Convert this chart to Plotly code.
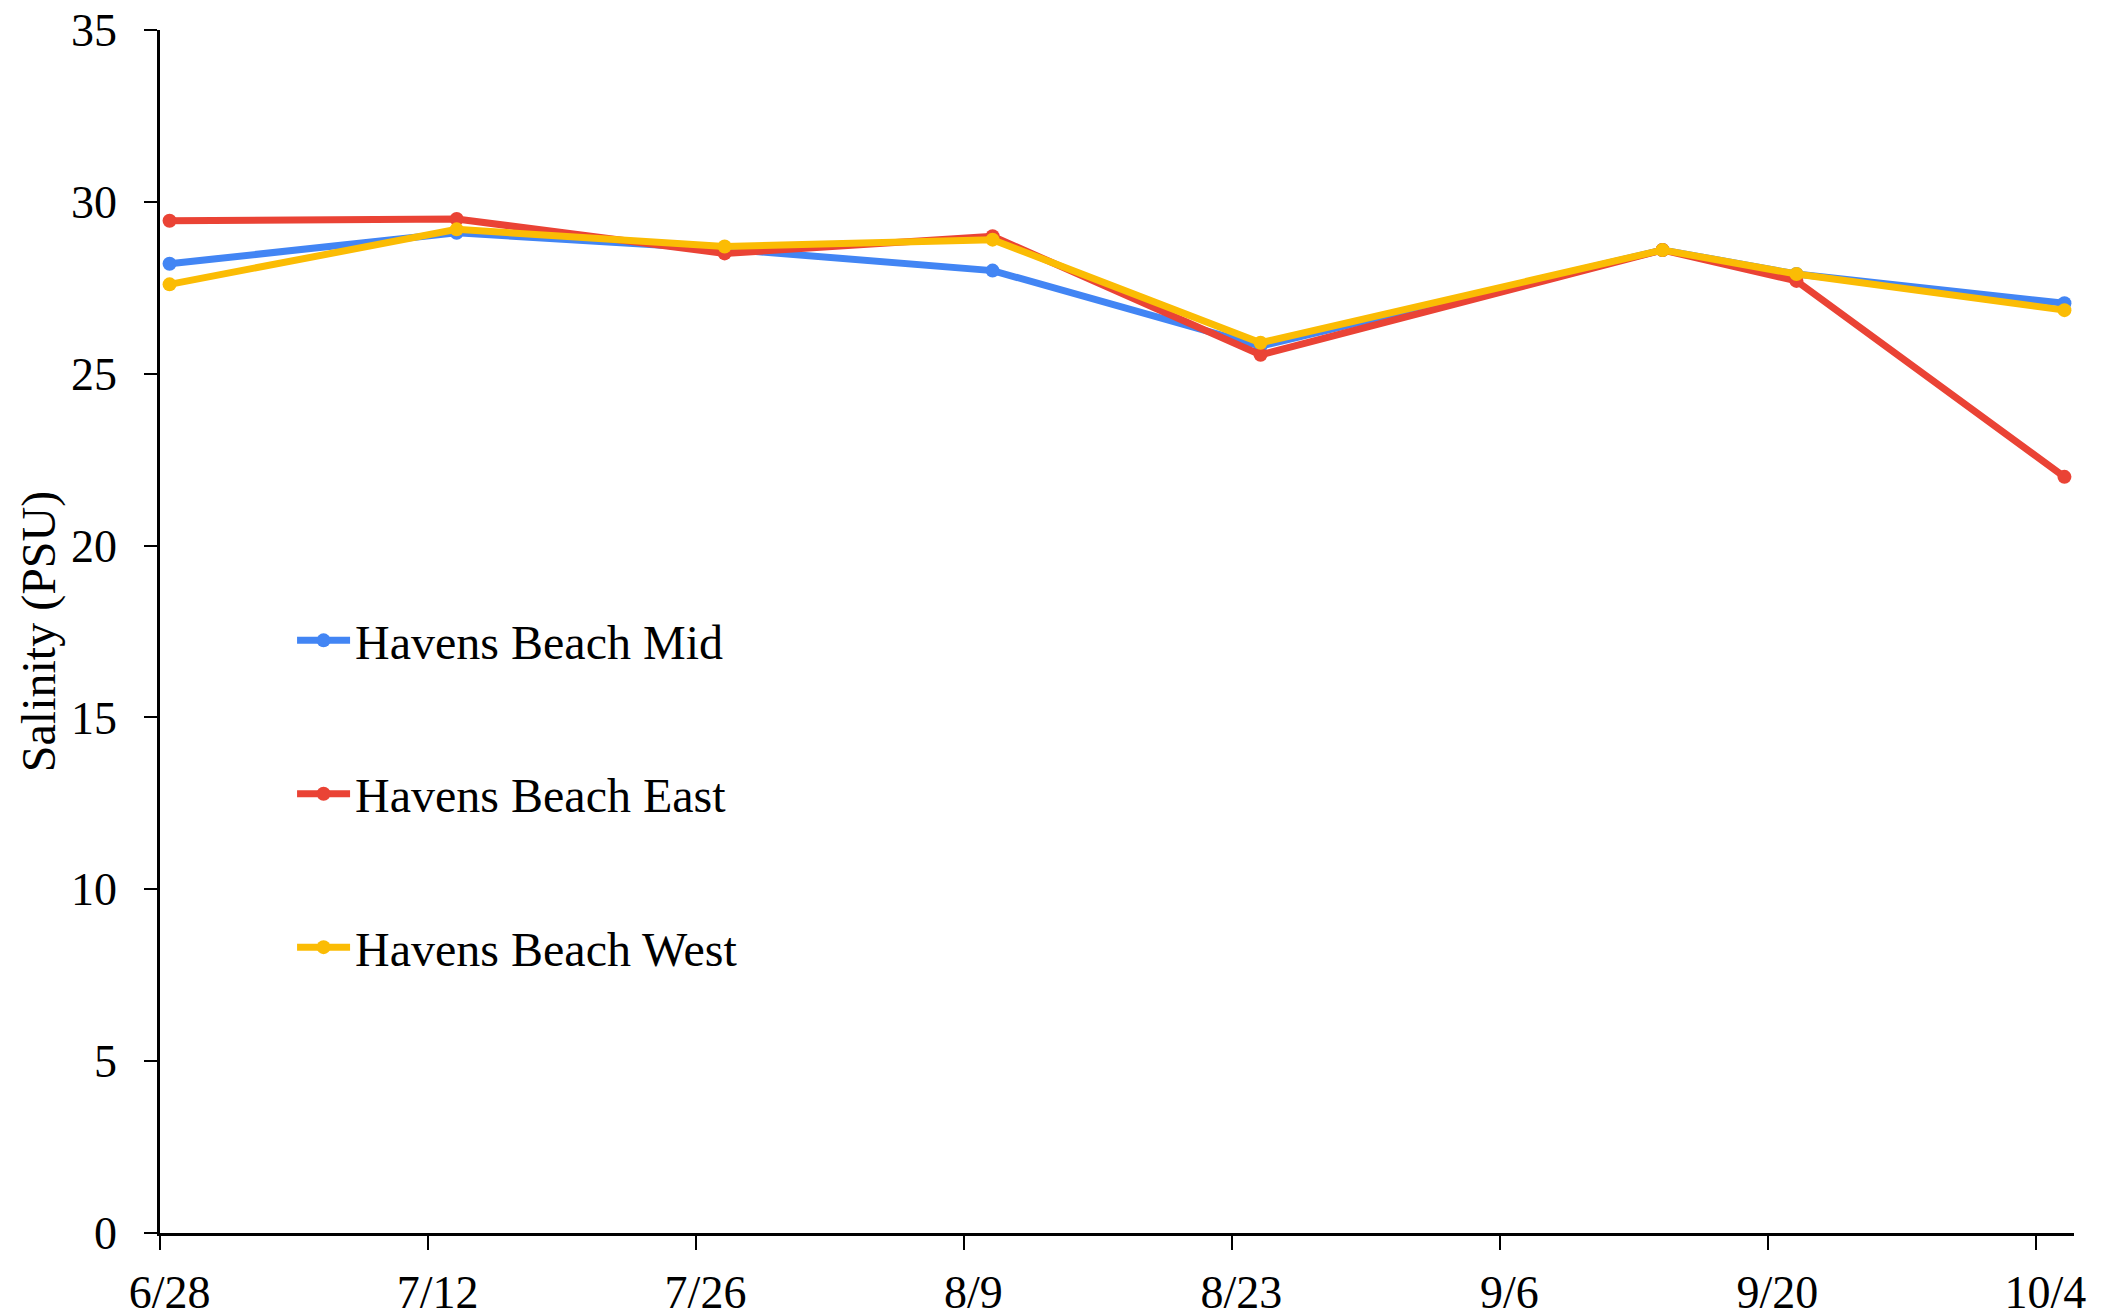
import pandas as pd
import plotly.graph_objects as go

# ---- data ----
sample_dates = ["2023-06-28", "2023-07-13", "2023-07-27", "2023-08-10",
                "2023-08-24", "2023-09-14", "2023-09-21", "2023-10-05"]
series_names = ["Havens Beach Mid", "Havens Beach East", "Havens Beach West"]
mid_values = [28.2, 29.1, 28.63, 28.0, 25.8, 28.6, 27.9, 27.05]
east_values = [29.45, 29.5, 28.5, 29.0, 25.55, 28.6, 27.7, 22.0]
west_values = [27.6, 29.2, 28.7, 28.9, 25.9, 28.6, 27.9, 26.85]
tick_dates = ["2023-06-28", "2023-07-12", "2023-07-26", "2023-08-09",
              "2023-08-23", "2023-09-06", "2023-09-20", "2023-10-04"]
tick_labels = ["6/28", "7/12", "7/26", "8/9", "8/23", "9/6", "9/20", "10/4"]
y_ticks = [0, 5, 10, 15, 20, 25, 30, 35]

colors = ["#4285F4", "#EA4335", "#FBBC04"]
FONT = "Liberation Serif, Times New Roman, serif"

# date axis with "between tick marks": points and labels sit mid-day
half_day = pd.Timedelta(hours=12)
x_pos = pd.to_datetime(sample_dates) + half_day
label_pos = pd.to_datetime(tick_dates) + half_day

fig = go.Figure()
for name, vals, col in zip(series_names, [mid_values, east_values, west_values], colors):
    fig.add_trace(go.Scatter(
        x=x_pos, y=vals, name=name, mode="lines+markers",
        line=dict(color=col, width=7),
        marker=dict(color=col, size=14),
        legendgroup=name,
    ))

fig.update_layout(
    width=2100, height=1307,
    margin=dict(l=152, r=34, t=22, b=82),
    paper_bgcolor="white", plot_bgcolor="white",
    font=dict(family=FONT, size=46, color="black"),
    showlegend=True,
    legend=dict(
        x=0.069, y=0.524, xanchor="left", yanchor="top",
        font=dict(family=FONT, size=48, color="black"),
        bgcolor="rgba(0,0,0,0)",
        tracegroupgap=88,
        itemwidth=53,
    ),
)
fig.update_xaxes(
    type="date", automargin=False,
    range=["2023-06-28", "2023-10-06"],
    tickmode="array", tickvals=label_pos, ticktext=tick_labels,
    ticks="outside", ticklen=14, tickwidth=2, tickcolor="rgba(0,0,0,0)",
    ticklabelstandoff=3, ticklabeloverflow="allow",
    minor=dict(tickmode="array", tickvals=pd.to_datetime(tick_dates),
               ticks="outside", ticklen=14, tickwidth=2, tickcolor="black",
               showgrid=False),
    showline=True, linecolor="black", linewidth=2.5,
    showgrid=False, zeroline=False,
    tickfont=dict(family=FONT, size=46, color="black"),
)
fig.update_yaxes(
    automargin=False,
    range=[0, 35], tickvals=y_ticks,
    showline=True, linecolor="black", linewidth=2.5,
    ticks="outside", ticklen=13, tickwidth=2, tickcolor="black",
    ticklabelstandoff=18, ticklabeloverflow="allow",
    showgrid=False, zeroline=False,
    tickfont=dict(family=FONT, size=46, color="black"),
    title=dict(text="Salinity (PSU)", font=dict(family=FONT, size=48, color="black"), standoff=1),
)

fig.write_html("out.html")
